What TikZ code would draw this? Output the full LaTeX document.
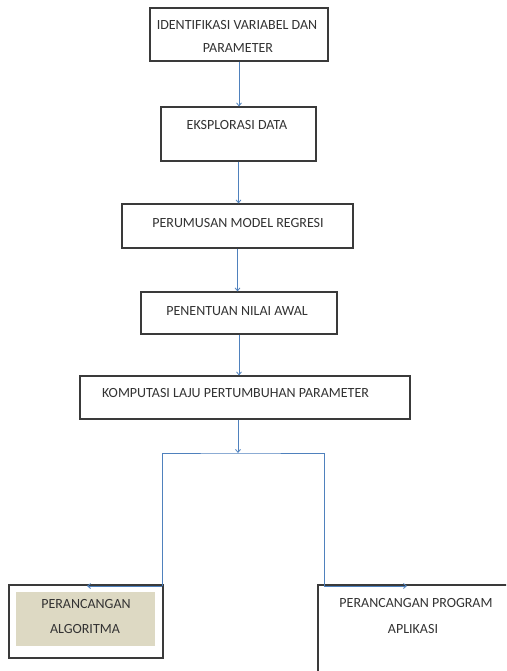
\documentclass[tikz,border=0pt]{standalone}
\usepackage{fontspec}
\setmainfont{Carlito}
\usetikzlibrary{arrows.meta}
\definecolor{garis}{HTML}{4F81BD}
\definecolor{tepi}{HTML}{3A3A3A}
\definecolor{krem}{HTML}{DDD9C3}
\definecolor{teks}{HTML}{333333}
\begin{document}
\begin{tikzpicture}[x=1pt, y=-1pt,
		kotak/.style={draw=tepi, line width=1.1pt, rectangle, inner sep=0pt},
		tulis/.style={text=teks, font=\fontsize{14}{16}\selectfont, inner sep=0pt},
		garisbiru/.style={draw=garis, line width=0.8pt},
		alir/.style={garisbiru, -{Straight Barb[length=3pt,width=5pt]}}]
				\useasboundingbox[fill=white] (0,0) rectangle (506,671);
				\clip (0,0) rectangle (506,671);
				%boxes
				\node[kotak, minimum width=178pt, minimum height=53pt] (identifikasi) at (239,34.5){};
				\node[tulis] at (237,25){IDENTIFIKASI VARIABEL DAN};
				\node[tulis] at (238,48){PARAMETER};
				
				\node[kotak, minimum width=155pt, minimum height=54pt] (eksplorasi) at (238.5,134){};
				\node[tulis] at (237,125){EKSPLORASI DATA};
				
				\node[kotak, minimum width=231pt, minimum height=44pt] (perumusan) at (237.5,226){};
				\node[tulis] at (238,223){PERUMUSAN MODEL REGRESI};
				
				\node[kotak, minimum width=196pt, minimum height=42pt] (penentuan) at (239,313){};
				\node[tulis] at (237,311){PENENTUAN NILAI AWAL};
				
				\node[kotak, minimum width=330pt, minimum height=43pt] (komputasi) at (245,397.5){};
				\node[tulis] at (235.5,393){KOMPUTASI LAJU PERTUMBUHAN PARAMETER};
				
				%bottom boxes
				\node[kotak, minimum width=154pt, minimum height=73pt] (algoritma) at (86,621.5){};
				\fill[krem] (16,592) rectangle (155,646);
				\node[tulis] at (86,604){PERANCANGAN};
				\node[tulis] at (85,629){ALGORITMA};
				
				\node[kotak, minimum width=202pt, minimum height=105pt] (program) at (419,637.5){};
				\node[tulis] at (416,603){PERANCANGAN PROGRAM};
				\node[tulis] at (413,629){APLIKASI};
				
				%arrows
				\draw[alir] (identifikasi.south) -- (identifikasi.south |- eksplorasi.north);
				\draw[alir] (eksplorasi.south) -- (eksplorasi.south |- perumusan.north);
				\draw[alir] (perumusan.south) -- (perumusan.south |- penentuan.north);
				\draw[alir] (penentuan.south) -- (penentuan.south |- komputasi.north);
				
				\coordinate (cabang) at (238,453);
				\coordinate (kiri) at (162,586);
				\coordinate (kanan) at (324,586);
				\coordinate (ujungkiri) at (87,586);
				\coordinate (ujungkanan) at (407,586);
				\draw[alir] (komputasi.south -| cabang) -- (cabang);
				\draw[garisbiru] (kiri) |- (cabang) -| (kanan);
				\draw[alir] (kiri) -- (ujungkiri);
				\draw[alir] (kanan) -- (ujungkanan);
			\end{tikzpicture}
\end{document}
